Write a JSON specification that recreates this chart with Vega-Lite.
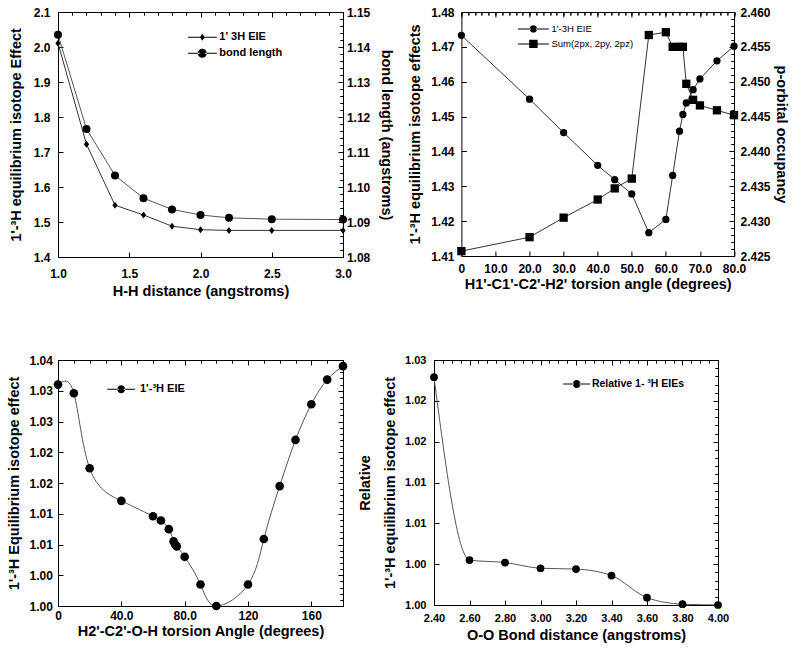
{
  "$schema": "https://vega.github.io/schema/vega-lite/v6.json",
  "background": "white",
  "padding": {"left": 5, "top": 5, "right": 5, "bottom": 5},
  "config": {
    "view": {"stroke": "black", "strokeWidth": 1},
    "axis": {
      "labelFont": "Liberation Sans", "labelFontSize": 12, "labelFontWeight": "bold", "labelColor": "black",
      "titleFont": "Liberation Sans", "titleFontSize": 14.5, "titleFontWeight": "bold", "titleColor": "black",
      "tickColor": "black", "tickSize": -5, "tickWidth": 1, "domain": false, "grid": false,
      "labelFlush": false, "labelOverlap": false, "labelPadding": 12
    },
    "legend": {"labelFont": "Liberation Sans", "labelColor": "black", "padding": 0, "offset": 0,
               "symbolOpacity": 1, "symbolFillColor": "black", "symbolStrokeWidth": 0, "symbolSize": 100, "rowPadding": 4}
  },
  "datasets": {
    "p1": [
      {"d": 1.0, "eie": 2.011, "bond": 1.1435},
      {"d": 1.2, "eie": 1.722, "bond": 1.1166},
      {"d": 1.4, "eie": 1.548, "bond": 1.1033},
      {"d": 1.6, "eie": 1.520, "bond": 1.0968},
      {"d": 1.8, "eie": 1.488, "bond": 1.0936},
      {"d": 2.0, "eie": 1.478, "bond": 1.0920},
      {"d": 2.2, "eie": 1.476, "bond": 1.0912},
      {"d": 2.5, "eie": 1.476, "bond": 1.0908},
      {"d": 3.0, "eie": 1.476, "bond": 1.0907}
    ],
    "p2": [
      {"a": 0, "eie": 1.4733, "sum": 2.4257},
      {"a": 20, "eie": 1.4550, "sum": 2.4277},
      {"a": 30, "eie": 1.4454, "sum": 2.4305},
      {"a": 40, "eie": 1.4360, "sum": 2.4331},
      {"a": 45, "eie": 1.4319, "sum": 2.4347},
      {"a": 50, "eie": 1.4278, "sum": 2.4361},
      {"a": 55, "eie": 1.4167, "sum": 2.4567},
      {"a": 60, "eie": 1.4205, "sum": 2.4571},
      {"a": 62, "eie": 1.4331, "sum": 2.4550},
      {"a": 64, "eie": 1.4458, "sum": 2.4550},
      {"a": 65, "eie": 1.4506, "sum": 2.4550},
      {"a": 66, "eie": 1.4539, "sum": 2.4497},
      {"a": 68, "eie": 1.4577, "sum": 2.4474},
      {"a": 70, "eie": 1.4608, "sum": 2.4466},
      {"a": 75, "eie": 1.4660, "sum": 2.4459},
      {"a": 80, "eie": 1.4702, "sum": 2.4452}
    ],
    "p3": [
      {"a": 0, "eie": 1.0360}, {"a": 10, "eie": 1.0346}, {"a": 20, "eie": 1.0224},
      {"a": 40, "eie": 1.0171}, {"a": 60, "eie": 1.0146}, {"a": 65, "eie": 1.0139},
      {"a": 70, "eie": 1.0125}, {"a": 73, "eie": 1.0105}, {"a": 74, "eie": 1.0100},
      {"a": 75, "eie": 1.0097}, {"a": 80, "eie": 1.0080}, {"a": 90, "eie": 1.0035},
      {"a": 100, "eie": 1.0000}, {"a": 120, "eie": 1.0035}, {"a": 130, "eie": 1.0109},
      {"a": 140, "eie": 1.0195}, {"a": 150, "eie": 1.0270}, {"a": 160, "eie": 1.0328},
      {"a": 170, "eie": 1.0368}, {"a": 180, "eie": 1.0390}
    ],
    "p4": [
      {"oo": 2.4, "rel": 1.0279}, {"oo": 2.6, "rel": 1.0055}, {"oo": 2.8, "rel": 1.0052},
      {"oo": 3.0, "rel": 1.0045}, {"oo": 3.2, "rel": 1.0044}, {"oo": 3.4, "rel": 1.0036},
      {"oo": 3.6, "rel": 1.0009}, {"oo": 3.8, "rel": 1.0001}, {"oo": 4.0, "rel": 1.0000}
    ]
  },
  "spacing": 55,
  "resolve": {"scale": {"shape": "independent"}, "legend": {"shape": "independent"}},
  "vconcat": [
    {
      "spacing": 118.4,
      "bounds": "flush",
      "resolve": {"scale": {"shape": "independent"}, "legend": {"shape": "independent"}},
      "hconcat": [
        {
          "width": 285, "height": 245,
          "data": {"name": "p1"},
          "layer": [
            {
              "encoding": {
                "x": {"field": "d", "type": "quantitative", "scale": {"domain": [1, 3], "nice": false, "zero": false},
                      "axis": {"title": "H-H distance (angstroms)", "tickCount": 4, "format": ".1f", "labelPadding": 16, "titlePadding": 5}},
                "y": {"field": "eie", "type": "quantitative", "scale": {"domain": [1.4, 2.1], "nice": false, "zero": false},
                      "axis": {"title": "1'-³H equilibrium isotope Effect", "tickCount": 7, "format": ".1f", "labelPadding": 13, "titlePadding": 10}}
              },
              "layer": [
                {"mark": {"type": "line", "color": "#333", "strokeWidth": 1}},
                {"mark": {"type": "point", "filled": true, "color": "black", "opacity": 1, "size": 49, "shape": "M0,-1L0.75,0L0,1L-0.75,0Z"}}
              ]
            },
            {
              "mark": {"type": "point", "opacity": 0, "filled": true, "color": "black"},
              "encoding": {
                "x": {"field": "d", "type": "quantitative", "scale": {"domain": [1, 3], "nice": false, "zero": false},
                      "axis": {"title": null, "labels": false, "tickCount": 20, "tickSize": -3}},
                "y": {"field": "eie", "type": "quantitative", "scale": {"domain": [1.4, 2.1], "nice": false, "zero": false},
                      "axis": {"title": null, "labels": false, "tickCount": 35, "tickSize": -3}},
                "shape": {"datum": "1' 3H EIE", "type": "nominal",
                  "scale": {"domain": ["1' 3H EIE", "bond length"],
                            "range": ["M-2.9,-0.1L-0.4,-0.1L-0.4,0.1L-2.9,0.1ZM0.4,-0.1L2.9,-0.1L2.9,0.1L0.4,0.1ZM0,-0.7L0.5,0L0,0.7L-0.5,0Z",
                                      "M-2.9,-0.1L-0.5,-0.1L-0.5,0.1L-2.9,0.1ZM0.5,-0.1L2.9,-0.1L2.9,0.1L0.5,0.1ZM-0.9,0A0.9,0.9,0,1,0,0.9,0A0.9,0.9,0,1,0,-0.9,0Z"]},
                  "legend": {"title": null, "orient": "none", "legendX": 138.8, "legendY": 19.8,
                    "labelFontSize": 11, "labelFontWeight": "bold", "labelOffset": 11.5}}
              }
            },
            {
              "encoding": {
                "x": {"field": "d", "type": "quantitative", "scale": {"domain": [1, 3], "nice": false, "zero": false},
                      "axis": {"orient": "top", "title": null, "labels": false, "tickCount": 4}},
                "y": {"field": "bond", "type": "quantitative", "scale": {"domain": [1.08, 1.15], "nice": false, "zero": false},
                      "axis": {"orient": "right", "title": "bond length (angstroms)", "tickCount": 7, "format": ".2f", "labelPadding": 8.4, "titlePadding": 9}}
              },
              "layer": [
                {"mark": {"type": "line", "color": "#555", "strokeWidth": 1}},
                {"mark": {"type": "point", "filled": true, "color": "black", "opacity": 1, "size": 64, "shape": "circle"}}
              ]
            },
            {
              "mark": {"type": "point", "opacity": 0, "filled": true, "color": "black"},
              "encoding": {
                "x": {"field": "d", "type": "quantitative", "scale": {"domain": [1, 3], "nice": false, "zero": false},
                      "axis": {"orient": "top", "title": null, "labels": false, "tickCount": 20, "tickSize": -3}},
                "y": {"field": "bond", "type": "quantitative", "scale": {"domain": [1.08, 1.15], "nice": false, "zero": false},
                      "axis": {"orient": "right", "title": null, "labels": false, "tickCount": 35, "tickSize": -3}},
                "shape": {"datum": "bond length", "type": "nominal"}
              }
            }
          ],
          "resolve": {"scale": {"x": "independent", "y": "independent"}, "axis": {"x": "independent", "y": "independent"}}
        },
        {
          "width": 272.6, "height": 244,
          "data": {"name": "p2"},
          "layer": [
            {
              "encoding": {
                "x": {"field": "a", "type": "quantitative", "scale": {"domain": [0, 80], "nice": false, "zero": false},
                      "axis": {"title": "H1'-C1'-C2'-H2' torsion angle (degrees)", "tickCount": 8, "format": ".3r", "labelPadding": 12, "titlePadding": 3}},
                "y": {"field": "eie", "type": "quantitative", "scale": {"domain": [1.41, 1.48], "nice": false, "zero": false},
                      "axis": {"title": "1'-³H equilibrium isotope effects", "tickCount": 7, "format": ".2f", "labelPadding": 12.4, "titlePadding": 8}}
              },
              "layer": [
                {"mark": {"type": "line", "color": "#333", "strokeWidth": 1}},
                {"mark": {"type": "point", "filled": true, "color": "black", "opacity": 1, "size": 53, "shape": "circle"}}
              ]
            },
            {
              "mark": {"type": "point", "opacity": 0, "filled": true, "color": "black"},
              "encoding": {
                "x": {"field": "a", "type": "quantitative", "scale": {"domain": [0, 80], "nice": false, "zero": false},
                      "axis": {"title": null, "labels": false, "tickCount": 40, "tickSize": -3}},
                "y": {"field": "eie", "type": "quantitative", "scale": {"domain": [1.41, 1.48], "nice": false, "zero": false},
                      "axis": {"title": null, "labels": false, "tickCount": 35, "tickSize": -3}},
                "shape": {"datum": "1'-3H EIE", "type": "nominal",
                  "scale": {"domain": ["1'-3H EIE", "Sum(2px, 2py, 2pz)"],
                            "range": ["M-3.1,-0.1L-0.5,-0.1L-0.5,0.1L-3.1,0.1ZM0.5,-0.1L3.1,-0.1L3.1,0.1L0.5,0.1ZM-0.74,0A0.74,0.74,0,1,0,0.74,0A0.74,0.74,0,1,0,-0.74,0Z",
                                      "M-3.1,-0.1L-0.5,-0.1L-0.5,0.1L-3.1,0.1ZM0.5,-0.1L3.1,-0.1L3.1,0.1L0.5,0.1ZM-0.84,-0.84L0.84,-0.84L0.84,0.84L-0.84,0.84Z"]},
                  "legend": {"title": null, "orient": "none", "legendX": 67, "legendY": 11.9, "rowPadding": 5,
                    "labelFontSize": 9.5, "labelFontWeight": "normal", "labelOffset": 13}}
              }
            },
            {
              "encoding": {
                "x": {"field": "a", "type": "quantitative", "scale": {"domain": [0, 80], "nice": false, "zero": false},
                      "axis": {"orient": "top", "title": null, "labels": false, "tickCount": 8}},
                "y": {"field": "sum", "type": "quantitative", "scale": {"domain": [2.425, 2.46], "nice": false, "zero": false},
                      "axis": {"orient": "right", "title": "p-orbital occupancy", "tickCount": 7, "format": ".3f", "labelPadding": 11, "titlePadding": 3}}
              },
              "layer": [
                {"mark": {"type": "line", "color": "#333", "strokeWidth": 1}},
                {"mark": {"type": "point", "filled": true, "color": "black", "opacity": 1, "size": 69, "shape": "square"}}
              ]
            },
            {
              "mark": {"type": "point", "opacity": 0, "filled": true, "color": "black"},
              "encoding": {
                "x": {"field": "a", "type": "quantitative", "scale": {"domain": [0, 80], "nice": false, "zero": false},
                      "axis": {"orient": "top", "title": null, "labels": false, "tickCount": 40, "tickSize": -3}},
                "y": {"field": "sum", "type": "quantitative", "scale": {"domain": [2.425, 2.46], "nice": false, "zero": false},
                      "axis": {"orient": "right", "title": null, "labels": false, "tickCount": 35, "tickSize": -3}},
                "shape": {"datum": "Sum(2px, 2py, 2pz)", "type": "nominal"}
              }
            }
          ],
          "resolve": {"scale": {"x": "independent", "y": "independent"}, "axis": {"x": "independent", "y": "independent"}}
        }
      ]
    },
    {
      "spacing": 91,
      "bounds": "flush",
      "resolve": {"scale": {"shape": "independent"}, "legend": {"shape": "independent"}},
      "hconcat": [
        {
          "width": 285, "height": 246,
          "data": {"name": "p3"},
          "layer": [
            {
              "encoding": {
                "x": {"field": "a", "type": "quantitative", "scale": {"domain": [0, 180], "nice": false, "zero": false},
                      "axis": {"title": "H2'-C2'-O-H torsion Angle (degrees)", "values": [0, 40, 80, 120, 160], "format": ".3r", "labelPadding": 9, "titlePadding": 3}},
                "y": {"field": "eie", "type": "quantitative", "scale": {"domain": [1.0, 1.04], "nice": false, "zero": false},
                      "axis": {"title": "1'-³H Equilibrium isotope effect", "tickCount": 8, "format": ".2f", "labelPadding": 10.6, "titlePadding": 8}}
              },
              "layer": [
                {"mark": {"type": "line", "color": "#555", "strokeWidth": 1, "interpolate": "natural", "clip": true}},
                {"mark": {"type": "point", "filled": true, "color": "black", "opacity": 1, "size": 75, "shape": "circle"}}
              ]
            },
            {
              "mark": {"type": "point", "opacity": 0, "filled": true, "color": "black"},
              "encoding": {
                "x": {"field": "a", "type": "quantitative", "scale": {"domain": [0, 180], "nice": false, "zero": false},
                      "axis": {"title": null, "labels": false, "tickCount": 18, "tickSize": -3}},
                "y": {"field": "eie", "type": "quantitative", "scale": {"domain": [1.0, 1.04], "nice": false, "zero": false},
                      "axis": {"title": null, "labels": false, "tickCount": 40, "tickSize": -3}},
                "shape": {"datum": "1'-³H EIE", "type": "nominal",
                  "scale": {"domain": ["1'-³H EIE"],
                            "range": ["M-2.8,-0.1L-0.5,-0.1L-0.5,0.1L-2.8,0.1ZM0.5,-0.1L2.8,-0.1L2.8,0.1L0.5,0.1ZM-0.8,0A0.8,0.8,0,1,0,0.8,0A0.8,0.8,0,1,0,-0.8,0Z"]},
                  "legend": {"title": null, "orient": "none", "legendX": 57.7, "legendY": 23.8,
                    "labelFontSize": 11, "labelFontWeight": "bold", "labelOffset": 13.3}}
              }
            },
            {
              "mark": {"type": "point", "opacity": 0},
              "encoding": {
                "x": {"field": "a", "type": "quantitative", "scale": {"domain": [0, 180], "nice": false, "zero": false},
                      "axis": {"orient": "top", "title": null, "labels": false, "values": [0, 40, 80, 120, 160]}},
                "y": {"field": "eie", "type": "quantitative", "scale": {"domain": [1.0, 1.04], "nice": false, "zero": false},
                      "axis": {"orient": "right", "title": null, "labels": false, "tickCount": 8}}
              }
            },
            {
              "mark": {"type": "point", "opacity": 0},
              "encoding": {
                "x": {"field": "a", "type": "quantitative", "scale": {"domain": [0, 180], "nice": false, "zero": false},
                      "axis": {"orient": "top", "title": null, "labels": false, "tickCount": 18, "tickSize": -3}},
                "y": {"field": "eie", "type": "quantitative", "scale": {"domain": [1.0, 1.04], "nice": false, "zero": false},
                      "axis": {"orient": "right", "title": null, "labels": false, "tickCount": 40, "tickSize": -3}}
              }
            }
          ],
          "resolve": {"scale": {"x": "independent", "y": "independent"}, "axis": {"x": "independent", "y": "independent"}}
        },
        {
          "width": 284, "height": 245,
          "data": {"name": "p4"},
          "layer": [
            {
              "encoding": {
                "x": {"field": "oo", "type": "quantitative", "scale": {"domain": [2.4, 4.0], "nice": false, "zero": false},
                      "axis": {"title": "O-O Bond distance (angstroms)", "tickCount": 8, "format": ".2f", "labelFontSize": 11, "labelPadding": 12.5, "titlePadding": 5}},
                "y": {"field": "rel", "type": "quantitative", "scale": {"domain": [1.0, 1.03], "nice": false, "zero": false},
                      "axis": {"title": ["Relative", "1'-³H equilibrium isotope effect"], "tickCount": 6, "format": ".2f", "labelFontSize": 11, "labelPadding": 13, "titlePadding": 7, "titleLineHeight": 25}}
              },
              "layer": [
                {"mark": {"type": "line", "color": "#555", "strokeWidth": 1, "interpolate": "monotone", "clip": true}},
                {"mark": {"type": "point", "filled": true, "color": "black", "opacity": 1, "size": 60, "shape": "circle"}}
              ]
            },
            {
              "mark": {"type": "point", "opacity": 0, "filled": true, "color": "black"},
              "encoding": {
                "x": {"field": "oo", "type": "quantitative", "scale": {"domain": [2.4, 4.0], "nice": false, "zero": false},
                      "axis": {"title": null, "labels": false, "tickCount": 32, "tickSize": -3}},
                "y": {"field": "rel", "type": "quantitative", "scale": {"domain": [1.0, 1.03], "nice": false, "zero": false},
                      "axis": {"title": null, "labels": false, "tickCount": 30, "tickSize": -3}},
                "shape": {"datum": "Relative 1- ³H EIEs", "type": "nominal",
                  "scale": {"domain": ["Relative 1- ³H EIEs"],
                            "range": ["M-2.7,-0.1L-0.5,-0.1L-0.5,0.1L-2.7,0.1ZM0.5,-0.1L2.7,-0.1L2.7,0.1L0.5,0.1ZM-0.8,0A0.8,0.8,0,1,0,0.8,0A0.8,0.8,0,1,0,-0.8,0Z"]},
                  "legend": {"title": null, "orient": "none", "legendX": 137.4, "legendY": 18.8,
                    "labelFontSize": 10.5, "labelFontWeight": "bold", "labelOffset": 10}}
              }
            },
            {
              "mark": {"type": "point", "opacity": 0},
              "encoding": {
                "x": {"field": "oo", "type": "quantitative", "scale": {"domain": [2.4, 4.0], "nice": false, "zero": false},
                      "axis": {"orient": "top", "title": null, "labels": false, "tickCount": 8}},
                "y": {"field": "rel", "type": "quantitative", "scale": {"domain": [1.0, 1.03], "nice": false, "zero": false},
                      "axis": {"orient": "right", "title": null, "labels": false, "tickCount": 6}}
              }
            },
            {
              "mark": {"type": "point", "opacity": 0},
              "encoding": {
                "x": {"field": "oo", "type": "quantitative", "scale": {"domain": [2.4, 4.0], "nice": false, "zero": false},
                      "axis": {"orient": "top", "title": null, "labels": false, "tickCount": 32, "tickSize": -3}},
                "y": {"field": "rel", "type": "quantitative", "scale": {"domain": [1.0, 1.03], "nice": false, "zero": false},
                      "axis": {"orient": "right", "title": null, "labels": false, "tickCount": 30, "tickSize": -3}}
              }
            }
          ],
          "resolve": {"scale": {"x": "independent", "y": "independent"}, "axis": {"x": "independent", "y": "independent"}}
        }
      ]
    }
  ]
}
